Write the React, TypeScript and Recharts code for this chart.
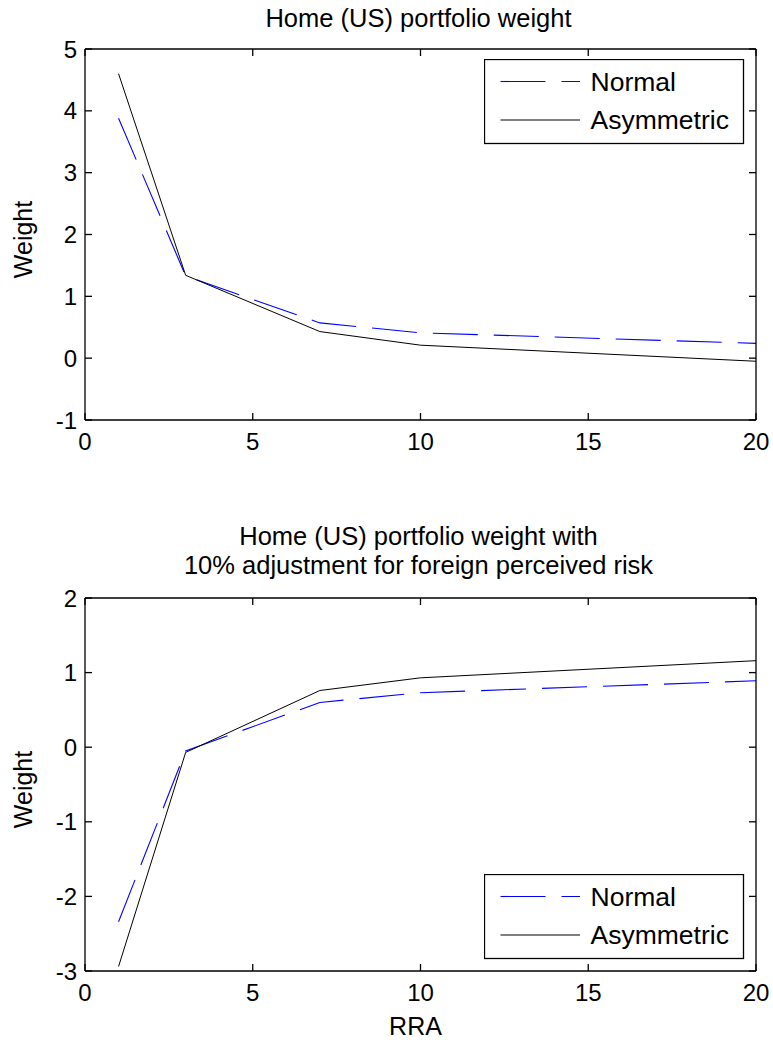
import React from 'react';
import { LineChart, Line, XAxis, YAxis, Legend, Label } from 'recharts';

const rra = [1, 3, 7, 10, 20];
const normalTop = [3.88, 1.33, 0.57, 0.41, 0.24];
const asymTop = [4.6, 1.34, 0.43, 0.21, -0.05];
const normalBottom = [-2.34, -0.05, 0.6, 0.73, 0.89];
const asymBottom = [-2.94, -0.07, 0.76, 0.93, 1.16];

const xTicks = [0, 5, 10, 15, 20];
const yTicksTop = [-1, 0, 1, 2, 3, 4, 5];
const yTicksBottom = [-3, -2, -1, 0, 1, 2];

const titleTop = ['Home (US) portfolio weight'];
const titleBottom = ['Home (US) portfolio weight with', '10% adjustment for foreign perceived risk'];
const seriesNames = ['Normal', 'Asymmetric'];

const FONT = '"Liberation Sans", Arial, Helvetica, sans-serif';
const FS = 24;
const FS_TITLE = 25.5;
const FS_LEGEND = 26.5;
const FS_LABEL = 25;
const seriesColors = ['#0000ff', '#000000'];
const seriesDash = ['45 16', ''];

const topData = rra.map((x, i) => ({ rra: x, normal: normalTop[i], asym: asymTop[i] }));
const bottomData = rra.map((x, i) => ({ rra: x, normal: normalBottom[i], asym: asymBottom[i] }));

const tickStyle = { fontFamily: FONT, fontSize: FS, fill: '#000' };

const LegendBox = () => {
  return (
    <svg width={261} height={86} style={{ display: 'block' }}>
      <rect x={0.5} y={0.5} width={259} height={84} fill="#fff" stroke="#000" strokeWidth={1.3} />
      {seriesNames.map((name, i) => {
        const y = 22.5 + i * 38.5;
        return (
          <g key={name}>
            <line
              x1={16.5}
              x2={96}
              y1={y}
              y2={y}
              stroke={seriesColors[i]}
              strokeWidth={1.1}
              strokeDasharray={seriesDash[i] || undefined}
            />
            <text x={106.5} y={y + 9.2} fontFamily={FONT} fontSize={FS_LEGEND} fill="#000">
              {name}
            </text>
          </g>
        );
      })}
    </svg>
  );
};

function Panel(props: {
  data: any[];
  height: number;
  marginTop: number;
  xHeight: number;
  domain: [number, number];
  yTicks: number[];
  title: string[];
  titleBaseline: number;
  legendTop: number;
  showXLabel: boolean;
}) {
  const { data, height, marginTop, xHeight, domain, yTicks, title, titleBaseline, legendTop, showXLabel } = props;
  return (
    <LineChart
      width={773}
      height={height}
      data={data}
      margin={{ top: marginTop - 1, right: 16, bottom: 0, left: 0 }}
    >
      <XAxis
        xAxisId="b"
        dataKey="rra"
        type="number"
        domain={[0, 20]}
        ticks={xTicks}
        height={xHeight}
        tickSize={-7}
        tickMargin={20}
        tick={tickStyle}
        stroke="#000"
        strokeWidth={1.3}
        allowDataOverflow
      >
        {showXLabel ? (
          <Label
            content={(lp: any) => {
              const vb = lp.viewBox || {};
              return (
                <text
                  x={vb.x + vb.width / 2 - 5}
                  y={vb.y + 64}
                  textAnchor="middle"
                  fontFamily={FONT}
                  fontSize={FS_LABEL}
                  fill="#000"
                >
                  RRA
                </text>
              );
            }}
          />
        ) : null}
      </XAxis>
      <XAxis
        xAxisId="t"
        orientation="top"
        dataKey="rra"
        type="number"
        domain={[0, 20]}
        ticks={xTicks}
        height={1}
        tickSize={-7}
        tickFormatter={() => ''}
        stroke="#000"
        strokeWidth={1.3}
        allowDataOverflow
      >
        <Label
          content={(lp: any) => {
            const vb = lp.viewBox || {};
            const cx = vb.x + vb.width / 2 - 2;
            const top = vb.y + (vb.height || 0);
            const n = title.length;
            return (
              <text textAnchor="middle" fontFamily={FONT} fontSize={FS_TITLE} fill="#000">
                {title.map((t, i) => (
                  <tspan key={i} x={cx} y={top - titleBaseline - (n - 1 - i) * 28.5}>
                    {t}
                  </tspan>
                ))}
              </text>
            );
          }}
        />
      </XAxis>
      <YAxis
        yAxisId="l"
        type="number"
        domain={domain}
        ticks={yTicks}
        width={85}
        tickSize={-7}
        tickMargin={15}
        tick={tickStyle}
        stroke="#000"
        strokeWidth={1.3}
        allowDataOverflow
      >
        <Label
          content={(lp: any) => {
            const vb = lp.viewBox || {};
            const cx = 32;
            const cy = vb.y + vb.height / 2 + 5;
            return (
              <text
                x={cx}
                y={cy}
                transform={`rotate(-90, ${cx}, ${cy})`}
                textAnchor="middle"
                fontFamily={FONT}
                fontSize={FS_LABEL}
                fill="#000"
              >
                Weight
              </text>
            );
          }}
        />
      </YAxis>
      <YAxis
        yAxisId="r"
        orientation="right"
        type="number"
        domain={domain}
        ticks={yTicks}
        width={1}
        tickSize={-7}
        tickFormatter={() => ''}
        stroke="#000"
        strokeWidth={1.3}
        allowDataOverflow
      />
      <Legend
        layout="horizontal"
        verticalAlign="middle"
        align="center"
        content={<LegendBox />}
        wrapperStyle={{ position: 'absolute', left: 484, top: legendTop, width: 261, height: 86 }}
      />
      <Line
        xAxisId="b"
        yAxisId="l"
        type="linear"
        dataKey="normal"
        name={seriesNames[0]}
        stroke={seriesColors[0]}
        strokeWidth={1.1}
        strokeDasharray={seriesDash[0]}
        dot={false}
        activeDot={false}
        isAnimationActive={false}
      />
      <Line
        xAxisId="b"
        yAxisId="l"
        type="linear"
        dataKey="asym"
        name={seriesNames[1]}
        stroke={seriesColors[1]}
        strokeWidth={1}
        dot={false}
        activeDot={false}
        isAnimationActive={false}
      />
    </LineChart>
  );
}

export default function App() {
  return (
    <div style={{ position: 'absolute', left: 0, top: 0, width: 773, height: 1040, background: '#fff' }}>
      <div style={{ position: 'absolute', left: 0, top: 0 }}>
        <Panel
          data={topData}
          height={460}
          marginTop={49}
          xHeight={40}
          domain={[-1, 5]}
          yTicks={yTicksTop}
          title={titleTop}
          titleBaseline={22.5}
          legendTop={59}
          showXLabel={false}
        />
      </div>
      <div style={{ position: 'absolute', left: 0, top: 520 }}>
        <Panel
          data={bottomData}
          height={520}
          marginTop={78}
          xHeight={69}
          domain={[-3, 2]}
          yTicks={yTicksBottom}
          title={titleBottom}
          titleBaseline={24.5}
          legendTop={354}
          showXLabel={true}
        />
      </div>
    </div>
  );
}
